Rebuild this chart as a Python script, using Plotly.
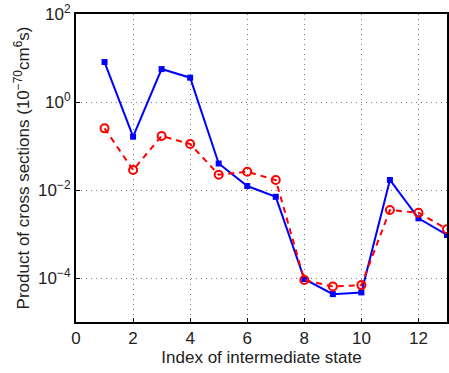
import plotly.graph_objects as go

x_index = [1, 2, 3, 4, 5, 6, 7, 8, 9, 10, 11, 12, 13]
blue_vals = [8.1, 0.163, 5.6, 3.57, 0.040, 0.0123, 0.0070, 9.5e-5, 4.3e-5, 4.7e-5, 0.0169, 2.27e-3, 9.5e-4]
red_vals = [0.252, 0.0285, 0.169, 0.111, 0.0223, 0.026, 0.0169, 9.0e-5, 6.4e-5, 6.9e-5, 3.5e-3, 3.05e-3, 1.29e-3]
x_ticks = [0, 2, 4, 6, 8, 10, 12]
y_tickvals = [1e-4, 1e-2, 1, 1e2]
y_ticktext = ["10<sup>−4</sup>", "10<sup>−2</sup>", "10<sup>0</sup>", "10<sup>2</sup>"]

fig = go.Figure()
fig.add_trace(go.Scatter(
    x=x_index, y=blue_vals, mode="lines+markers",
    line=dict(color="#0000ff", width=2),
    marker=dict(symbol="square", size=6, color="#0000ff"),
    showlegend=False, cliponaxis=True))
fig.add_trace(go.Scatter(
    x=x_index, y=red_vals, mode="lines+markers",
    line=dict(color="#ff0000", width=2, dash="6px,5px"),
    marker=dict(symbol="circle-open", size=8, color="#ff0000", line=dict(width=2)),
    showlegend=False, cliponaxis=True))

font = dict(family="Liberation Sans, Arial, sans-serif", size=17, color="#222222")
grid = dict(showgrid=True, gridcolor="#777777", griddash="1px,4px", gridwidth=1)
fig.update_layout(
    width=449, height=373,
    margin=dict(l=76, r=0, t=14, b=51),
    paper_bgcolor="white", plot_bgcolor="white",
    font=font,
    xaxis=dict(range=[0, 13], tickvals=x_ticks, ticks="inside", ticklen=4,
               tickcolor="black", showline=True, linecolor="black", linewidth=2,
               mirror=True, zeroline=False, **grid,
               title=dict(text="Index of intermediate state", standoff=2,
                          font=dict(size=17))),
    yaxis=dict(type="log", range=[-5, 2], tickvals=y_tickvals, ticktext=y_ticktext,
               ticks="inside", ticklen=4, tickcolor="black",
               showline=True, linecolor="black", linewidth=2, mirror=True,
               zeroline=False, **grid,
               title=dict(text="Product of cross sections (10<sup>−70</sup>cm<sup>6</sup>s)",
                          standoff=4, font=dict(size=17))),
)

fig.write_html("out.html", config={"displayModeBar": False},
               post_script="document.body.style.margin='0';document.body.style.overflow='hidden';")
